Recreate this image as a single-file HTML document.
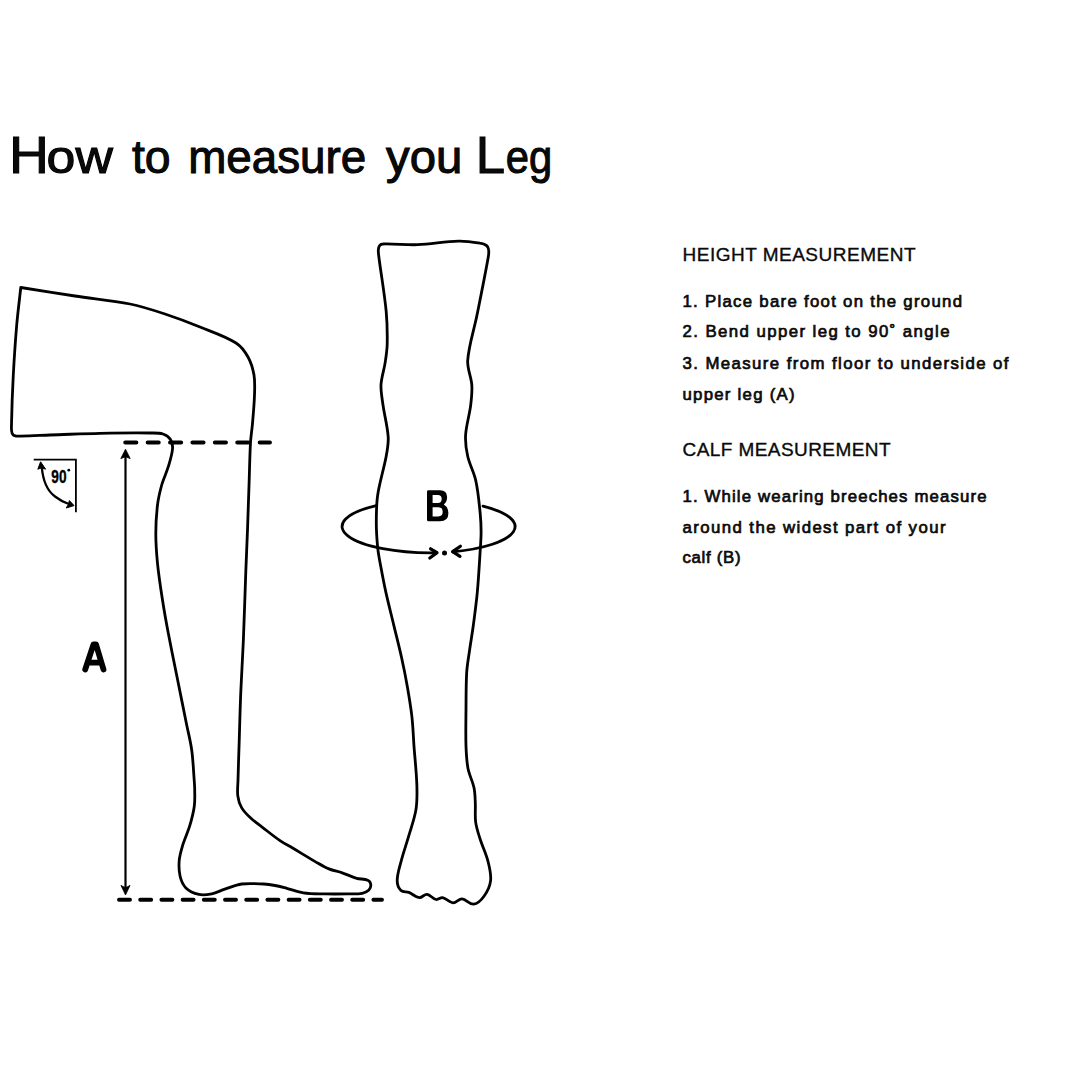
<!DOCTYPE html>
<html><head><meta charset="utf-8">
<style>
html,body{margin:0;padding:0;background:#fff;}
body{width:1080px;height:1080px;overflow:hidden;position:relative;font-family:"Liberation Sans",sans-serif;}
svg{position:absolute;left:0;top:0;}
</style></head>
<body>
<svg width="1080" height="1080" viewBox="0 0 1080 1080">
<g font-family="Liberation Sans, sans-serif" fill="#0a0a0a">
<text x="9.00" y="172.6" font-size="51" stroke="#000" stroke-width="1.0" textLength="39.89" lengthAdjust="spacingAndGlyphs">H</text>
<text x="46.60" y="172.6" font-size="46" stroke="#000" stroke-width="1.0" textLength="66.21" lengthAdjust="spacingAndGlyphs">ow</text>
<text x="132.00" y="172.6" font-size="46" stroke="#000" stroke-width="1.0" textLength="38.62" lengthAdjust="spacingAndGlyphs">to</text>
<text x="188.20" y="172.6" font-size="46" stroke="#000" stroke-width="1.0" textLength="178.08" lengthAdjust="spacingAndGlyphs">measure</text>
<text x="386.00" y="172.6" font-size="46" stroke="#000" stroke-width="1.0" textLength="76.24" lengthAdjust="spacingAndGlyphs">you</text>
<text x="475.80" y="172.6" font-size="51" stroke="#000" stroke-width="1.0" textLength="29.30" lengthAdjust="spacingAndGlyphs">L</text>
<text x="505.80" y="172.6" font-size="46" stroke="#000" stroke-width="1.0" textLength="46.39" lengthAdjust="spacingAndGlyphs">eg</text>
<text x="682.5" y="261" font-size="19" stroke="#0a0a0a" stroke-width="0.35" textLength="233" lengthAdjust="spacing">HEIGHT MEASUREMENT</text>
<text x="682.5" y="307" font-size="16.8" stroke="#0a0a0a" stroke-width="0.7" textLength="279.5" lengthAdjust="spacing">1. Place bare foot on the ground</text>
<text x="682.5" y="337" font-size="16.8" stroke="#0a0a0a" stroke-width="0.7" textLength="267" lengthAdjust="spacing">2. Bend upper leg to 90˚ angle</text>
<text x="682.5" y="368.5" font-size="16.8" stroke="#0a0a0a" stroke-width="0.7" textLength="326" lengthAdjust="spacing">3. Measure from floor to underside of</text>
<text x="682.5" y="399.5" font-size="16.8" stroke="#0a0a0a" stroke-width="0.7" textLength="112" lengthAdjust="spacing">upper leg (A)</text>
<text x="682.5" y="456" font-size="19" stroke="#0a0a0a" stroke-width="0.35" textLength="208" lengthAdjust="spacing">CALF MEASUREMENT</text>
<text x="682.5" y="502" font-size="16.8" stroke="#0a0a0a" stroke-width="0.7" textLength="304" lengthAdjust="spacing">1. While wearing breeches measure</text>
<text x="682.5" y="532.5" font-size="16.8" stroke="#0a0a0a" stroke-width="0.7" textLength="263" lengthAdjust="spacing">around the widest part of your</text>
<text x="682.5" y="563" font-size="16.8" stroke="#0a0a0a" stroke-width="0.7" textLength="58" lengthAdjust="spacing">calf (B)</text>
</g>
<g fill="none" stroke="#000" stroke-width="2.8" stroke-linecap="round" stroke-linejoin="round">
<path d="M20.8 287.5 C38.9 290.3 56.9 293.3 75.0 296.0 C93.3 298.8 111.8 300.4 130.0 304.0 C141.9 306.4 153.5 310.2 165.0 314.0 C176.8 317.9 188.5 322.3 200.0 327.0 C212.2 332.0 224.9 336.0 236.0 343.0 C241.2 346.3 245.0 351.6 248.0 357.0 C251.1 362.5 252.9 368.8 254.0 375.0 C255.1 381.6 254.7 388.3 254.5 395.0 C254.2 404.5 253.3 413.9 252.5 423.3 C252.0 429.7 250.9 436.1 250.5 442.5 C249.8 455.0 249.6 467.5 249.2 480.0 C248.6 496.7 248.1 513.3 247.5 530.0 C247.0 543.9 246.3 557.8 245.8 571.7 C244.9 595.0 244.3 618.4 243.3 641.7 C242.6 658.4 241.5 675.0 240.8 691.7 C240.1 708.4 239.7 725.0 239.2 741.7 C238.8 754.5 238.3 767.2 238.0 780.0 C237.9 785.3 237.1 790.6 237.8 795.9 C238.3 800.0 239.5 804.1 241.6 807.6 C243.9 811.6 247.3 814.9 250.7 818.0 C254.7 821.8 259.3 824.9 263.7 828.3 C269.1 832.5 274.4 836.8 280.0 840.6 C283.9 843.3 288.1 845.4 292.2 847.8 C299.6 852.2 306.9 856.8 314.4 861.1 C319.2 863.8 323.8 866.8 328.9 868.9 C333.2 870.7 337.8 871.3 342.2 872.8 C347.1 874.5 351.7 876.9 356.7 878.3 C360.3 879.3 364.4 878.7 367.8 880.2 C369.4 880.9 370.6 882.8 370.8 884.6 C371.0 886.5 370.2 888.6 368.9 890.0 C367.1 891.8 364.6 892.8 362.2 893.3 C357.5 894.2 352.6 893.8 347.8 893.9 C340.4 894.0 333.0 894.1 325.6 893.9 C318.2 893.7 310.7 893.9 303.3 892.8 C297.6 892.0 292.3 889.7 286.7 888.3 C282.8 887.3 278.9 886.2 275.0 885.5 C271.3 884.8 267.5 884.2 263.7 884.0 C256.3 883.7 248.9 883.0 241.6 884.0 C235.8 884.8 230.4 887.4 224.8 889.2 C220.4 890.6 216.3 892.9 211.8 893.8 C207.6 894.6 203.1 895.4 198.9 894.4 C194.2 893.3 189.4 891.3 185.9 887.9 C182.8 884.9 181.1 880.5 180.1 876.3 C178.9 871.2 178.8 865.9 179.2 860.7 C179.6 855.4 181.2 850.3 182.7 845.2 C184.7 838.6 187.8 832.3 189.8 825.7 C191.7 819.3 193.4 812.9 194.3 806.3 C195.1 800.7 194.7 795.0 194.7 789.4 C194.7 786.3 194.4 783.1 194.2 780.0 C193.4 770.0 193.1 759.9 191.7 750.0 C190.6 741.6 188.4 733.3 186.7 725.0 C183.9 711.1 181.1 697.2 178.3 683.3 C175.0 666.6 171.5 650.0 168.3 633.3 C166.2 622.2 164.2 611.1 162.5 600.0 C160.6 587.8 158.7 575.6 157.5 563.3 C156.5 553.3 155.8 543.3 155.8 533.3 C155.8 523.8 156.4 514.4 157.5 505.0 C158.3 498.2 159.9 491.6 161.7 485.0 C163.5 478.8 166.4 472.9 168.3 466.7 C170.0 460.9 172.0 455.0 172.5 449.0 C172.8 445.8 172.2 442.2 170.5 439.5 C168.8 436.9 166.0 434.9 163.0 434.0 C158.9 432.7 154.3 433.0 150.0 433.0 C133.3 432.8 116.7 433.0 100.0 433.3 C83.3 433.6 66.7 434.5 50.0 435.0 C38.7 435.4 27.3 436.4 16.0 436.0 C14.5 435.9 12.8 434.9 12.2 433.5 C11.1 430.9 11.4 427.8 11.5 425.0 C11.8 408.3 12.4 391.7 13.3 375.0 C14.2 358.3 15.3 341.6 16.7 325.0 C17.8 312.5 19.4 300.0 20.8 287.5"/>
<path d="M383.0 244.0 C394.6 243.7 406.2 245.1 417.8 244.7 C431.4 244.2 444.9 241.5 458.5 241.2 C465.7 241.0 472.9 242.1 480.0 243.2 C482.3 243.5 484.6 244.1 486.5 245.5 C487.7 246.4 488.4 248.0 488.6 249.5 C489.0 252.0 488.7 254.5 488.3 257.0 C484.8 276.6 480.8 296.1 476.9 315.6 C473.9 330.6 468.8 345.2 467.7 360.4 C467.1 368.6 471.2 376.6 471.8 384.8 C472.3 391.6 471.5 398.4 470.7 405.2 C469.5 415.2 466.2 424.9 465.6 435.0 C465.2 442.1 466.1 449.3 467.7 456.3 C469.6 464.7 474.0 472.3 475.8 480.7 C478.2 491.5 479.1 502.5 480.2 513.5 C480.8 519.6 481.1 525.8 481.1 532.0 C481.1 538.2 480.6 544.4 480.2 550.6 C479.3 564.5 478.6 578.5 477.3 592.4 C476.3 603.2 474.8 614.0 473.4 624.8 C472.3 633.2 470.8 641.6 469.6 650.0 C468.6 657.4 467.2 664.8 466.7 672.2 C466.0 684.5 466.1 696.9 466.0 709.3 C465.9 721.6 465.6 734.0 466.0 746.3 C466.3 753.7 466.6 761.2 468.0 768.5 C469.3 775.1 472.6 781.2 474.0 787.8 C475.1 792.8 475.1 797.9 475.3 803.0 C475.6 809.5 474.8 816.0 475.7 822.4 C476.5 828.2 478.4 833.7 480.2 839.3 C482.5 846.7 486.1 853.8 488.0 861.3 C489.6 867.6 491.3 874.2 490.6 880.7 C490.0 886.3 487.3 891.7 484.0 896.3 C481.5 899.8 478.0 903.7 473.7 904.2 C469.4 904.7 466.3 899.2 462.0 898.9 C458.7 898.7 456.3 903.0 453.0 902.8 C449.1 902.5 446.4 898.3 442.6 897.6 C440.4 897.2 438.3 900.0 436.1 899.5 C432.7 898.8 430.5 894.8 427.0 894.4 C424.2 894.1 422.1 897.9 419.3 897.6 C415.4 897.2 412.5 893.8 408.9 892.4 C406.4 891.4 402.9 892.4 401.0 890.5 C398.5 888.0 397.2 884.2 397.2 880.7 C397.2 874.1 399.5 867.7 401.1 861.3 C403.4 852.6 406.4 844.1 408.9 835.4 C411.4 826.8 414.6 818.3 416.0 809.4 C417.2 801.7 417.1 793.8 416.9 786.0 C416.5 772.7 415.0 759.5 414.0 746.3 C413.3 736.4 413.0 726.5 411.9 716.7 C410.8 706.7 409.1 696.9 407.4 687.0 C405.7 677.0 403.7 667.1 401.5 657.2 C399.1 646.4 396.3 635.6 393.7 624.8 C391.1 614.0 388.3 603.2 385.9 592.4 C383.9 583.3 382.2 574.2 380.5 565.0 C379.4 559.3 378.3 553.6 377.7 547.8 C376.9 539.5 376.3 531.1 376.3 522.8 C376.3 513.5 376.3 504.2 377.7 495.0 C379.6 481.9 383.8 469.3 386.2 456.3 C387.4 449.9 388.6 443.5 388.2 437.0 C387.5 426.2 384.5 415.7 383.0 405.0 C382.1 398.3 380.7 391.6 381.0 384.8 C381.4 377.2 384.1 369.9 385.2 362.4 C386.1 356.3 387.1 350.2 387.2 344.0 C387.4 333.2 387.2 322.3 386.2 311.5 C384.5 293.6 381.3 275.8 379.0 258.0 C378.7 255.3 378.2 252.7 378.3 250.0 C378.4 248.5 378.7 246.8 379.6 245.6 C380.4 244.6 381.7 244.0 383.0 244.0 Z"/>
</g>
<!-- dashed lines -->
<g fill="none" stroke="#000" stroke-width="3.9" stroke-linecap="round">
<line x1="125.2" y1="442.5" x2="270" y2="442.5" stroke-dasharray="11.2 11.2"/>
<line x1="119" y1="899.8" x2="382" y2="899.8" stroke-dasharray="11 10.2"/>
</g>
<!-- A arrow -->
<g stroke="#000" stroke-width="2.2" fill="none">
<line x1="125.5" y1="455" x2="125.5" y2="889"/>
</g>
<path d="M125.5 449.2 L130.2 458.6 L125.5 456.8 L120.8 458.6 Z" fill="#000" stroke="#000" stroke-width="0.8" stroke-linejoin="round"/>
<path d="M125.5 895 L130 885.4 L125.5 887.8 L121 885.4 Z" fill="#000" stroke="#000" stroke-width="0.8" stroke-linejoin="round"/>
<!-- A letter -->
<path d="M85.2 669.5 L93.5 644.3 L96 644.3 L103.5 669.5 M88.8 662.6 L100 662.6" fill="none" stroke="#000" stroke-width="5.8" stroke-linecap="round" stroke-linejoin="round"/>
<!-- B letter -->
<path fill="#000" fill-rule="evenodd" d="M427 491.5 Q427 490.2 428.5 490.2 L440 490.2 Q447.1 490.2 447.1 497.3 Q447.1 502 443.8 504.6 Q448.4 507.2 448.4 513.2 Q448.4 521.2 440 521.2 L428.5 521.2 Q427 521.2 427 519.7 Z M432.6 495 L437.8 495 Q441.7 495 441.7 499 Q441.7 502.9 437.8 502.9 L432.6 502.9 Z M432.6 507.2 L438.3 507.2 Q442.7 507.2 442.7 511.8 Q442.7 516.4 438.3 516.4 L432.6 516.4 Z"/>
<!-- ellipse arcs -->
<g fill="none" stroke="#000" stroke-width="2.8" stroke-linecap="round" stroke-linejoin="round">
<path d="M376.3 505.6 A88.4 26.4 0 0 0 436.5 552.8"/>
<path d="M483 506.2 A88.2 26.4 0 0 1 452.8 551.8"/>
<path d="M430.6 548.8 L437 552.7 L429.8 558" stroke-width="3.2"/>
<path d="M460.4 546.2 L452.6 551.6 L460 556.4" stroke-width="3.2"/>
</g>
<circle cx="444.5" cy="552.9" r="2.5" fill="#000"/>
<!-- 90 deg symbol -->
<g fill="none" stroke="#000" stroke-width="1.8">
<path d="M33.7 459.7 L75.9 459.7 L75.9 512.2"/>
</g>
<path d="M41.8 467 Q43.5 488 55 496.5 Q62 502 70 504.5" fill="none" stroke="#000" stroke-width="2.3" stroke-linecap="round"/>
<path d="M40.6 461.8 L45.6 469.2 L41.8 467.8 L37.8 469.2 Z" fill="#000" stroke="#000" stroke-width="1" stroke-linejoin="round"/>
<path d="M74 505.6 L66.2 508 L68.4 504.6 L69.4 500.6 Z" fill="#000" stroke="#000" stroke-width="1" stroke-linejoin="round"/>
<text x="51.3" y="483" font-family="Liberation Sans, sans-serif" font-weight="bold" font-size="19" stroke="#000" stroke-width="0.4" textLength="15.2" lengthAdjust="spacingAndGlyphs" fill="#000">90</text>
<circle cx="68.8" cy="470.2" r="1.4" fill="#000"/>
</svg>
</body></html>
